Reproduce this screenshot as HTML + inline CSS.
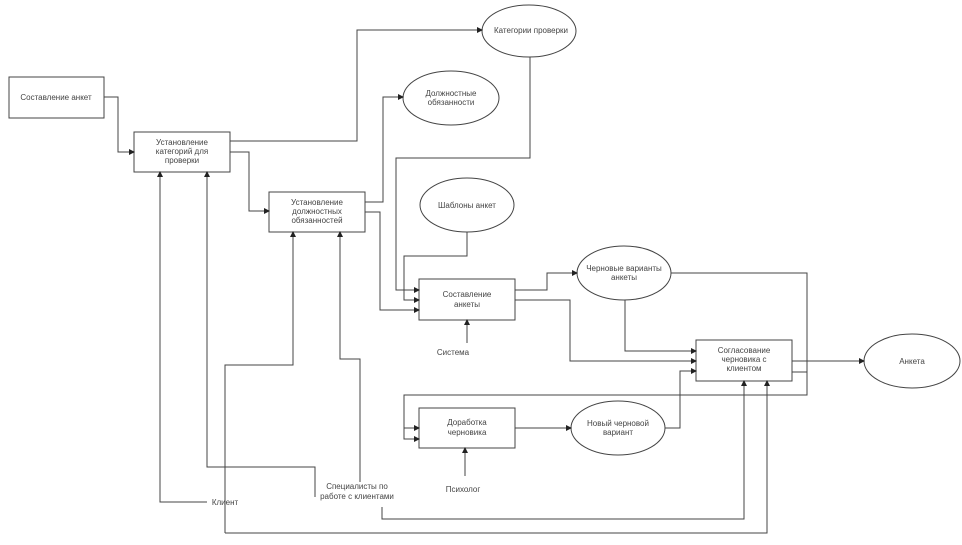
<!DOCTYPE html>
<html><head><meta charset="utf-8"><style>
html,body{margin:0;padding:0;background:#fff;}
svg{display:block}
text{font-family:"Liberation Sans",sans-serif;font-size:8px;fill:#444;text-anchor:middle}
</style></head><body>
<svg width="962" height="545" viewBox="0 0 962 545" xmlns="http://www.w3.org/2000/svg">
<defs><marker id="a" markerWidth="6" markerHeight="6" refX="5" refY="3" orient="auto" markerUnits="userSpaceOnUse"><path d="M0,0 L6,3 L0,6z" fill="#222"/></marker></defs>
<g fill="none" stroke="#444" stroke-width="1">
<rect x="9" y="77" width="95" height="41"/>
<rect x="134" y="132" width="96" height="40"/>
<rect x="269" y="192" width="96" height="40"/>
<rect x="419" y="279" width="96" height="41"/>
<rect x="696" y="340" width="96" height="41"/>
<rect x="419" y="408" width="96" height="40"/>
<ellipse cx="529" cy="31" rx="47" ry="26"/>
<ellipse cx="451" cy="98" rx="48" ry="27"/>
<ellipse cx="467" cy="205" rx="47" ry="27"/>
<ellipse cx="624" cy="273" rx="47" ry="27"/>
<ellipse cx="912" cy="361" rx="48" ry="27"/>
<ellipse cx="618" cy="428" rx="47" ry="27"/>
</g>
<g fill="none" stroke="#444" stroke-width="1" marker-end="url(#a)">
<polyline points="104,97 118,97 118,152 134,152"/>
<polyline points="230,141 357,141 357,30 482,30"/>
<polyline points="230,152 249,152 249,211 269,211"/>
<polyline points="365,202 383,202 383,97 403,97"/>
<polyline points="365,212 380,212 380,310 419,310"/>
<polyline points="530,57 530,158 396,158 396,290 419,290"/>
<polyline points="467,232 467,256 404,256 404,300 419,300"/>
<polyline points="515,290 547,290 547,273 577,273"/>
<polyline points="515,300 570,300 570,361 696,361"/>
<polyline points="625,300 625,351 696,351"/>
<polyline points="671,273 807,273 807,395 404,395 404,439 419,439"/>
<polyline points="404,428 419,428"/>
<polyline points="792,361 864,361"/>
<polyline points="515,428 571,428"/>
<polyline points="665,428 680,428 680,371 696,371"/>
<polyline points="467,343 467,320"/>
<polyline points="465,476 465,448"/>
<polyline points="382,507 382,519 744,519 744,381"/>
<polyline points="225,533 225,365 293,365 293,232"/>
<polyline points="225,533 767,533 767,381"/>
<polyline points="207,502 160,502 160,172"/>
<polyline points="315,497 315,467 207,467 207,172"/>
<polyline points="360,482 360,359 340,359 340,232"/>
</g>
<line x1="792" y1="372" x2="807" y2="372" stroke="#444"/>
<text x="56" y="100">Составление анкет</text>
<text x="182" y="145">Установление</text><text x="182" y="154">категорий для</text><text x="182" y="163">проверки</text>
<text x="317" y="205">Установление</text><text x="317" y="214">должностных</text><text x="317" y="223">обязанностей</text>
<text x="467" y="297">Составление</text><text x="467" y="307">анкеты</text>
<text x="744" y="353">Согласование</text><text x="744" y="362">черновика с</text><text x="744" y="371">клиентом</text>
<text x="467" y="425">Доработка</text><text x="467" y="435">черновика</text>
<text x="531" y="33">Категории проверки</text>
<text x="451" y="96">Должностные</text><text x="451" y="105">обязанности</text>
<text x="467" y="208">Шаблоны анкет</text>
<text x="624" y="271">Черновые варианты</text><text x="624" y="280">анкеты</text>
<text x="912" y="364">Анкета</text>
<text x="618" y="426">Новый черновой</text><text x="618" y="435">вариант</text>
<text x="453" y="355">Система</text>
<text x="463" y="492">Психолог</text>
<text x="225" y="505">Клиент</text>
<text x="357" y="489">Специалисты по</text><text x="357" y="499">работе с клиентами</text>
</svg>
</body></html>
